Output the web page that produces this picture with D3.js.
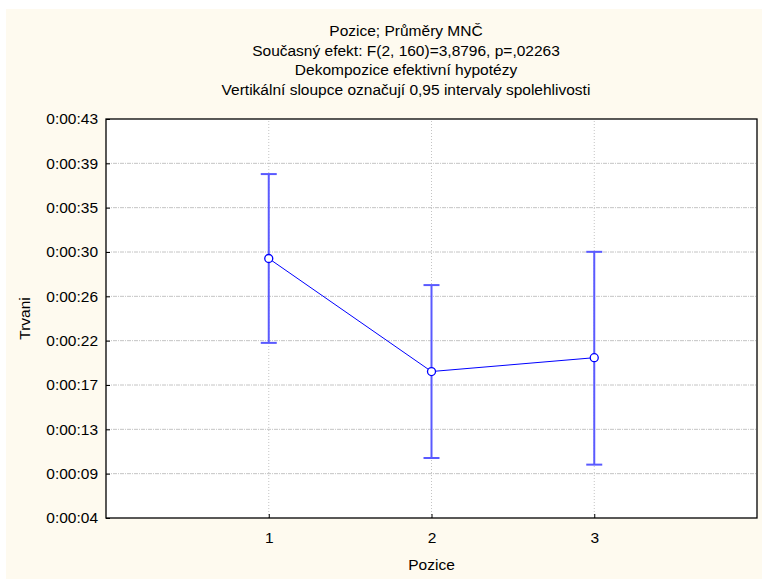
<!DOCTYPE html>
<html>
<head>
<meta charset="utf-8">
<script src="https://cdn.jsdelivr.net/npm/d3@7"></script>
<style>
  body { margin: 0; background: #fff; }
  text { font-family: "Liberation Sans", Arial, sans-serif; fill: #000; }
</style>
</head>
<body>
<svg id="chart" width="762" height="579"></svg>
<script>
// data (seconds)
var pozice = [1, 2, 3]
var means = [29.7, 18.65, 20.0]
var upper = [37.95, 27.1, 30.35]
var lower = [21.45, 10.2, 9.55]

var tickLabels = ["0:00:04", "0:00:09", "0:00:13", "0:00:17", "0:00:22",
                  "0:00:26", "0:00:30", "0:00:35", "0:00:39", "0:00:43"]
var titleLines = ["Pozice; Průměry MNČ",
                  "Současný efekt: F(2, 160)=3,8796, p=,02263",
                  "Dekompozice efektivní hypotézy",
                  "Vertikální sloupce označují 0,95 intervaly spolehlivosti"]

var svg = d3.select("#chart")
var svgWidth = +svg.attr("width")
var svgHeight = +svg.attr("height")

var padding = {t: 119, r: 5, b: 61, l: 106}
var fontSize = "15.5px"

// cream background
svg.append("rect")
  .attr("x", 6).attr("y", 9)
  .attr("width", svgWidth - 6).attr("height", svgHeight - 9)
  .attr("fill", "#fefaef")

var yMin = 13 / 3, step = 13 / 3
var tickVals = tickLabels.map(function(d, i) { return yMin + i * step })

var x = d3.scaleLinear()
  .domain([0, 4])
  .range([padding.l, svgWidth - padding.r])
var y = d3.scaleLinear()
  .domain([tickVals[0], tickVals[tickVals.length - 1]])
  .range([svgHeight - padding.b, padding.t])

// plot area
svg.append("rect")
  .attr("x", x(0)).attr("y", y.range()[1])
  .attr("width", x(4) - x(0)).attr("height", y.range()[0] - y.range()[1])
  .attr("fill", "#fff")

// grid
svg.append("g")
  .selectAll("line")
  .data(tickVals.slice(1, -1))
  .join("line")
  .attr("x1", x(0)).attr("x2", x(4))
  .attr("y1", function(d) { return y(d) }).attr("y2", function(d) { return y(d) })
  .attr("stroke", "#c4c4c4")
  .attr("stroke-dasharray", "4,1,1,1")

svg.append("g")
  .selectAll("line")
  .data(pozice)
  .join("line")
  .attr("x1", function(d) { return x(d) }).attr("x2", function(d) { return x(d) })
  .attr("y1", y.range()[0]).attr("y2", y.range()[1])
  .attr("stroke", "#c4c4c4")
  .attr("stroke-dasharray", "1,2")

// y axis
var yAxis = svg.append("g")
  .attr("transform", "translate(" + x(0) + ",0)")
  .call(d3.axisLeft(y).tickValues(tickVals)
    .tickFormat(function(d, i) { return tickLabels[i] })
    .tickSizeInner(-4).tickSizeOuter(0).tickPadding(8))
yAxis.select(".domain").remove()
yAxis.selectAll("text").style("font-size", fontSize)
  .attr("font-family", "Liberation Sans, Arial, sans-serif")

// x axis
var xAxis = svg.append("g")
  .attr("transform", "translate(0," + y.range()[0] + ")")
  .call(d3.axisBottom(x).tickValues(pozice).tickFormat(d3.format("d"))
    .tickSizeInner(-4).tickSizeOuter(0).tickPadding(14))
xAxis.select(".domain").remove()
xAxis.selectAll("text").style("font-size", fontSize)
  .attr("font-family", "Liberation Sans, Arial, sans-serif")

// frame
svg.append("rect")
  .attr("x", x(0)).attr("y", y.range()[1])
  .attr("width", x(4) - x(0)).attr("height", y.range()[0] - y.range()[1])
  .attr("fill", "none")
  .attr("stroke", "#000")
  .attr("stroke-width", 1.3)

// error bars
var eb = svg.append("g").attr("stroke", "#5a5aff").attr("stroke-width", 2)
eb.selectAll(".stick")
  .data(pozice)
  .join("line")
  .attr("x1", function(d) { return x(d) }).attr("x2", function(d) { return x(d) })
  .attr("y1", function(d, i) { return y(upper[i]) })
  .attr("y2", function(d, i) { return y(lower[i]) })
eb.selectAll(".capTop")
  .data(pozice)
  .join("line")
  .attr("x1", function(d) { return x(d) - 8 }).attr("x2", function(d) { return x(d) + 8 })
  .attr("y1", function(d, i) { return y(upper[i]) })
  .attr("y2", function(d, i) { return y(upper[i]) })
eb.selectAll(".capBot")
  .data(pozice)
  .join("line")
  .attr("x1", function(d) { return x(d) - 8 }).attr("x2", function(d) { return x(d) + 8 })
  .attr("y1", function(d, i) { return y(lower[i]) })
  .attr("y2", function(d, i) { return y(lower[i]) })

// mean line
var line = d3.line()
  .x(function(d) { return x(d) })
  .y(function(d, i) { return y(means[i]) })
svg.append("path")
  .datum(pozice)
  .attr("d", line)
  .attr("fill", "none")
  .attr("stroke", "#0000ff")
  .attr("stroke-width", 1)

svg.selectAll(".pt")
  .data(pozice)
  .join("circle")
  .attr("cx", function(d) { return x(d) })
  .attr("cy", function(d, i) { return y(means[i]) })
  .attr("r", 4)
  .attr("fill", "#fff")
  .attr("stroke", "#0000ff")
  .attr("stroke-width", 1.3)

// titles
svg.append("g")
  .selectAll("text")
  .data(titleLines)
  .join("text")
  .attr("x", 406)
  .attr("y", function(d, i) { return 36 + i * 19.6 })
  .attr("text-anchor", "middle")
  .style("font-size", fontSize)
  .text(function(d) { return d })

svg.append("text")
  .attr("x", (x(0) + x(4)) / 2)
  .attr("y", 570)
  .attr("text-anchor", "middle")
  .style("font-size", fontSize)
  .text("Pozice")

svg.append("text")
  .attr("transform", "translate(30," + (y.range()[0] + y.range()[1]) / 2 + ")rotate(-90)")
  .attr("text-anchor", "middle")
  .style("font-size", fontSize)
  .text("Trvani")
</script>
</body>
</html>
